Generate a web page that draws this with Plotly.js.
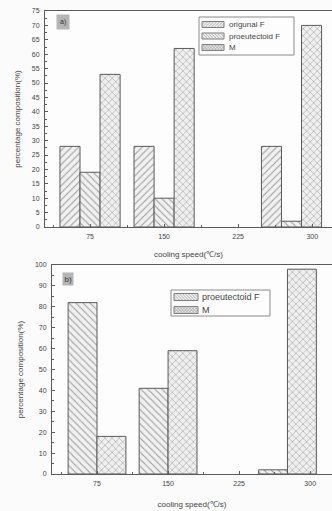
<!DOCTYPE html>
<html>
<head>
<meta charset="utf-8">
<script src="https://cdn.plot.ly/plotly-3.0.1.min.js"></script>
<style>html,body{margin:0;padding:0;overflow:hidden;background:#fbfbfb;}#chart{width:332px;height:511px;}</style>
</head>
<body>
<div id="chart"></div>
<script>
// ---- data ----
var coolingSpeeds = [75, 150, 300];
var tickValues = [75, 150, 225, 300];
var tickLabels = ['75', '150', '225', '300'];
var seriesNamesA = ['origunal F', 'proeutectoid F', 'M'];
var originalF_A = [28, 28, 28];
var proeutectoidF_A = [19, 10, 2];
var martensite_A = [53, 62, 70];
var seriesNamesB = ['proeutectoid F', 'M'];
var proeutectoidF_B = [82, 41, 2];
var martensite_B = [18, 59, 98];
var yTitle = 'percentage composition(%)';
var xTitle = 'cooling speed(\u2103/s)';

// ---- style ----
var W = 332, H = 511;
var FONT = 'Liberation Sans, Arial, sans-serif';
var TXT = '#444';
var LINE = '#5a5a5a';
var FILL = '#f0f0f0';
var HATCH = '#9a9a9a';
// reference places the last bar group slightly left of its tick (axis units)
var groupShiftA = [0, 0, -21];
var groupShiftB = [0, 0, -24];

function barTrace(name, y, shape, xa, ya, idx, n, width, shifts) {
  var offs = shifts.map(function (s) { return -n * width / 2 + idx * width + s; });
  return {
    type: 'bar', name: name, x: coolingSpeeds, y: y,
    xaxis: xa, yaxis: ya, width: width, offset: offs,
    showlegend: false,
    marker: {
      color: FILL,
      line: {color: LINE, width: 1},
      pattern: {shape: shape, fgcolor: HATCH, bgcolor: FILL, size: 5, solidity: 0.2}
    },
    hoverinfo: 'skip'
  };
}

var traces = [
  barTrace(seriesNamesA[0], originalF_A, '/', 'x', 'y', 0, 3, 20.3, groupShiftA),
  barTrace(seriesNamesA[1], proeutectoidF_A, '\\', 'x', 'y', 1, 3, 20.3, groupShiftA),
  barTrace(seriesNamesA[2], martensite_A, 'x', 'x', 'y', 2, 3, 20.3, groupShiftA),
  barTrace(seriesNamesB[0], proeutectoidF_B, '\\', 'x2', 'y2', 0, 2, 30.5, groupShiftB),
  barTrace(seriesNamesB[1], martensite_B, 'x', 'x2', 'y2', 1, 2, 30.5, groupShiftB)
];

function xAxis(domain, range, anchor, standoff) {
  return {
    domain: domain, range: range, anchor: anchor,
    tickmode: 'array', tickvals: tickValues, ticktext: tickLabels,
    ticks: 'inside', ticklen: 3, tickcolor: LINE, ticklabelstandoff: 3,
    minor: {ticks: 'inside', ticklen: 2, tickcolor: LINE, tickvals: [37.5, 112.5, 187.5, 262.5]},
    showline: true, linecolor: LINE, linewidth: 1, mirror: true,
    showgrid: false, zeroline: false,
    tickfont: {family: FONT, size: 7, color: TXT},
    title: {text: xTitle, font: {family: FONT, size: 8, color: TXT}, standoff: standoff}
  };
}
function yAxis(domain, range, dtick, minorDtick, anchor, standoff) {
  return {
    domain: domain, range: range, anchor: anchor,
    dtick: dtick, tick0: 0,
    ticks: 'inside', ticklen: 3, tickcolor: LINE, ticklabelstandoff: 3,
    minor: {ticks: 'inside', ticklen: 2, tickcolor: LINE, dtick: minorDtick, tick0: 0},
    showline: true, linecolor: LINE, linewidth: 1, mirror: false,
    showgrid: false, zeroline: false,
    tickfont: {family: FONT, size: 7, color: TXT},
    title: {text: yTitle, font: {family: FONT, size: 8, color: TXT}, standoff: standoff}
  };
}

// ---- hand-built legends (pixel layout -> paper) ----
function px(x) { return x / W; }
function py(y) { return 1 - y / H; }
var shapes = [], annotations = [];

function hatchPath(x0, y0, x1, y1, shape, step) {
  var h = y1 - y0, d = '';
  function seg(dir) {
    for (var c = x0 - h; c < x1; c += step) {
      var a = Math.max(x0, c), b = Math.min(x1, c + h);
      if (b <= a) continue;
      var ya, yb;
      if (dir === '/') { ya = y1 - (a - c); yb = y1 - (b - c); }
      else { ya = y0 + (a - c); yb = y0 + (b - c); }
      d += 'M' + px(a).toFixed(4) + ',' + py(ya).toFixed(4) + 'L' + px(b).toFixed(4) + ',' + py(yb).toFixed(4);
    }
  }
  if (shape === 'x') { seg('/'); seg('\\'); } else { seg(shape); }
  return d;
}

function addLegend(box, names, shapesList, rowsY, swX0, swX1, swH, textX, fontSize) {
  shapes.push({type: 'rect', xref: 'paper', yref: 'paper', x0: px(box[0]), x1: px(box[2]),
               y0: py(box[3]), y1: py(box[1]), line: {color: '#8a8a8a', width: 1}, fillcolor: '#fdfdfd', layer: 'above'});
  names.forEach(function (nm, i) {
    var yc = rowsY[i], y0 = yc - swH / 2, y1 = yc + swH / 2;
    shapes.push({type: 'rect', xref: 'paper', yref: 'paper', x0: px(swX0), x1: px(swX1),
                 y0: py(y1), y1: py(y0), line: {color: '#7a7a7a', width: 1}, fillcolor: FILL, layer: 'above'});
    shapes.push({type: 'path', xref: 'paper', yref: 'paper', path: hatchPath(swX0, y0, swX1, y1, shapesList[i], 3),
                 line: {color: HATCH, width: 0.7}, layer: 'above'});
    annotations.push({text: nm, xref: 'paper', yref: 'paper', x: px(textX), y: py(yc),
                      xanchor: 'left', yanchor: 'middle', showarrow: false,
                      font: {family: FONT, size: fontSize, color: TXT}});
  });
}

addLegend([199, 17, 294, 55], seriesNamesA, ['/', '\\', 'x'], [24.5, 36, 47.5], 202, 224, 6, 227, 8);
addLegend([171, 290, 270, 316], seriesNamesB, ['\\', 'x'], [297, 310], 174, 198, 7, 200, 9);

annotations.push({text: 'a)', xref: 'paper', yref: 'paper', x: px(56), y: py(13.5),
  xanchor: 'left', yanchor: 'top', showarrow: false, bgcolor: '#b5b5b5', borderpad: 3,
  font: {family: FONT, size: 7, color: '#333'}});
annotations.push({text: 'b)', xref: 'paper', yref: 'paper', x: px(62), y: py(272),
  xanchor: 'left', yanchor: 'top', showarrow: false, bgcolor: '#b5b5b5', borderpad: 1.5,
  font: {family: FONT, size: 8, color: '#333'}});

var layout = {
  width: W, height: H,
  margin: {l: 0, r: 0, t: 0, b: 0},
  paper_bgcolor: '#fbfbfb', plot_bgcolor: '#fdfdfd',
  barmode: 'overlay',
  showlegend: false,
  xaxis: xAxis([45 / W, 1], [29.4, 320], 'y', 11),
  yaxis: yAxis([1 - 227 / H, 1 - 11 / H], [0, 75], 5, 2.5, 'x', 10),
  xaxis2: xAxis([52 / W, 1], [27.5, 323], 'y2', 14),
  yaxis2: yAxis([1 - 474 / H, 1 - 265 / H], [0, 100], 10, 5, 'x2', 10),
  shapes: shapes,
  annotations: annotations
};

Plotly.newPlot('chart', traces, layout, {displayModeBar: false, staticPlot: true});
</script>
</body>
</html>
